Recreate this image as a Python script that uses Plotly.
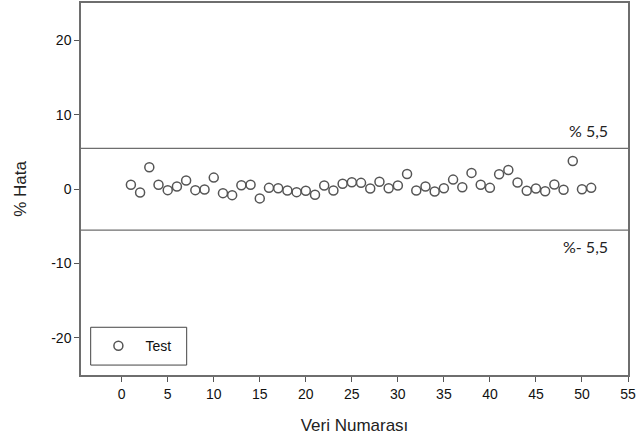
import plotly.graph_objects as go

veri_numarasi = list(range(1, 52))
hata = [0.59, -0.44, 2.94, 0.59, -0.13, 0.36, 1.16, -0.13, -0.04, 1.56,
        -0.53, -0.80, 0.53, 0.59, -1.24, 0.18, 0.13, -0.17, -0.40, -0.21,
        -0.75, 0.49, -0.17, 0.72, 0.94, 0.85, 0.09, 0.99, 0.13, 0.49,
        2.05, -0.17, 0.36, -0.30, 0.13, 1.29, 0.27, 2.19, 0.59, 0.18,
        2.00, 2.59, 0.89, -0.21, 0.09, -0.27, 0.63, -0.08, 3.79, 0.00,
        0.18]
limit_values = [5.5, -5.5]
limit_labels = ["% 5,5", "%- 5,5"]
series_name = "Test"
x_ticks = [0, 5, 10, 15, 20, 25, 30, 35, 40, 45, 50, 55]
y_ticks = [-20, -10, 0, 10, 20]
y_tick_labels = ["-20", "-10", "0", "10", "20"]

fig = go.Figure()
fig.add_trace(go.Scatter(
    x=veri_numarasi, y=hata, mode="markers", name=series_name,
    marker=dict(symbol="circle-open", size=9, color="#555555",
                line=dict(width=1.5, color="#555555")),
))

for v in limit_values:
    fig.add_shape(type="line", xref="paper", x0=0, x1=1, yref="y", y0=v, y1=v,
                  line=dict(color="#6e6e6e", width=1.2))

label_offsets = [2.4, -2.2]
for v, lab, off in zip(limit_values, limit_labels, label_offsets):
    fig.add_annotation(x=0.968, xref="paper", y=v + off, yref="y", text=lab,
                       showarrow=False, xanchor="right", yanchor="middle",
                       font=dict(family="Lato", size=16, color="#222222"))

# legend frame
fig.add_shape(type="rect", xref="paper", yref="paper",
              x0=0.0177, x1=0.1932, y0=0.0267, y1=0.1283,
              line=dict(color="#444444", width=1), fillcolor="rgba(0,0,0,0)")

axis_common = dict(showline=True, linecolor="#6e6e6e", linewidth=1.5, mirror=True,
                   showgrid=False, zeroline=False, ticks="outside", ticklen=5,
                   tickwidth=1, tickcolor="#555555",
                   tickfont=dict(family="Liberation Sans", size=14, color="#111111"))

fig.update_xaxes(range=[-4.42, 55], tickvals=x_ticks,
                 title=dict(text="Veri Numarası", standoff=19,
                            font=dict(family="Liberation Sans", size=17, color="#222222")),
                 **axis_common)
fig.update_yaxes(range=[-25, 25.05], tickvals=y_ticks, ticktext=y_tick_labels,
                 title=dict(text="% Hata", standoff=20,
                            font=dict(family="Liberation Sans", size=17, color="#222222")),
                 **axis_common)

fig.update_layout(
    width=640, height=445,
    margin=dict(l=81, r=12, t=1, b=70),
    plot_bgcolor="white", paper_bgcolor="white",
    showlegend=True,
    legend=dict(x=0.019, y=0.0775, xanchor="left", yanchor="middle",
                borderwidth=0, bgcolor="rgba(0,0,0,0)", itemwidth=44,
                font=dict(family="Liberation Sans", size=14, color="#111111")),
)

fig.write_html("out.html")
